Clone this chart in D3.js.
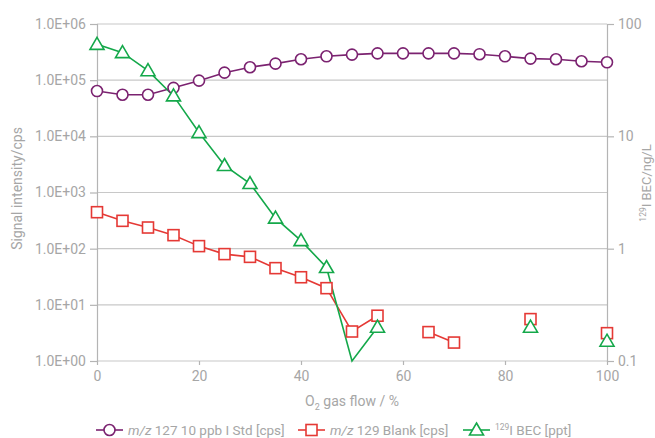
<!DOCTYPE html>
<html>
<head>
<meta charset="utf-8">
<script src="https://cdn.jsdelivr.net/npm/d3@7/dist/d3.min.js"></script>
<style>
  body { margin: 0; background: #fff; }
  text { font-family: Roboto, "Noto Sans", sans-serif; fill: #a6a6a6; }
</style>
</head>
<body>
<div id="chart"></div>
<script>
// Data
const flow = [0, 5, 10, 15, 20, 25, 30, 35, 40, 45, 50, 55, 60, 65, 70, 75, 80, 85, 90, 95, 100];
const std127 = [64000, 55000, 55000, 73000, 98000, 136000, 170000, 197000, 236000, 266000, 285000,
                300000, 300000, 300000, 300000, 290000, 266000, 242000, 236000, 217000, 208000];
const blank129 = [446, 313, 238, 174, 111, 80, 71.5, 45, 31, 19.8, 3.35,
                  6.4, null, 3.27, 2.13, null, null, 5.57, null, null, 3.13];
const bec129 = [65.9, 55.6, 38.4, 22.9, 10.8, 5.5, 3.8, 1.87, 1.18, 0.68, 0.09,
                0.2, null, null, null, null, null, 0.2, null, null, 0.15];

const leftTicks = [1, 10, 100, 1e3, 1e4, 1e5, 1e6];
const rightTicks = [0.1, 1, 10, 100];
const rightTickLabels = ["0.1", "1", "10", "100"];
const xTicks = [0, 20, 40, 60, 80, 100];

const colors = { std: "#7b2270", blank: "#e53935", bec: "#14a84a" };

// Dimensions
const width = 655, height = 438;
const margin = { top: 24, right: 48, bottom: 77, left: 97 };

const svg = d3.select("#chart").append("svg")
  .attr("width", width)
  .attr("height", height);

const x = d3.scaleLinear().domain([0, 100]).range([margin.left, width - margin.right]);
const yL = d3.scaleLog().domain([1, 1e6]).range([height - margin.bottom, margin.top]).clamp(true);
const yR = d3.scaleLog().domain([0.1, 100]).range([height - margin.bottom, margin.top]).clamp(true);

// Gridlines
svg.append("g").selectAll("line")
  .data(leftTicks)
  .enter().append("line")
  .attr("x1", x(0)).attr("x2", x(100))
  .attr("y1", d => yL(d)).attr("y2", d => yL(d))
  .attr("stroke", "#c8c8c8").attr("stroke-width", 1.2);

// Axes
const fmtE = d => "1.0E+" + String(Math.round(Math.log10(d))).padStart(2, "0");

const gL = svg.append("g").attr("transform", `translate(${x(0)},0)`)
  .call(d3.axisLeft(yL).tickValues(leftTicks).tickFormat(fmtE).tickSize(7).tickPadding(4));
const gR = svg.append("g").attr("transform", `translate(${x(100)},0)`)
  .call(d3.axisRight(yR).tickValues(rightTicks).tickFormat((d, i) => rightTickLabels[i]).tickSize(7).tickPadding(4));
const gX = svg.append("g").attr("transform", `translate(0,${yL(1)})`)
  .call(d3.axisBottom(x).tickValues(xTicks).tickSize(4).tickPadding(6));

[gL, gR, gX].forEach(g => {
  g.select(".domain").attr("stroke", "#b4b4b4").attr("stroke-width", 1.2);
  g.selectAll(".tick line").attr("stroke", "#b4b4b4").attr("stroke-width", 1.2);
  g.selectAll(".tick text").style("font-size", "14px").attr("fill", "#a6a6a6");
});
gX.select(".domain").remove();

// Axis titles
svg.append("text")
  .attr("transform", `translate(22,${(margin.top + yL(1)) / 2 - 4}) rotate(-90)`)
  .attr("text-anchor", "middle")
  .style("font-size", "14px")
  .text("Signal intensity/cps");

const rt = svg.append("text")
  .attr("transform", `translate(651,183) rotate(-90)`)
  .attr("text-anchor", "middle")
  .style("font-size", "13px");
rt.append("tspan").style("font-size", "8.5px").attr("dy", "-5").text("129");
rt.append("tspan").attr("dy", "5").text("I BEC/ng/L");

const xt = svg.append("text")
  .attr("x", (x(0) + x(100)) / 2)
  .attr("y", 406)
  .attr("text-anchor", "middle")
  .style("font-size", "14px");
xt.append("tspan").text("O");
xt.append("tspan").style("font-size", "9px").attr("dy", "4").text("2");
xt.append("tspan").attr("dy", "-4").text(" gas flow / %");

// Series
const series = [
  { key: "std", values: std127, y: yL, marker: "circle" },
  { key: "blank", values: blank129, y: yL, marker: "square" },
  { key: "bec", values: bec129, y: yR, marker: "triangle" }
];

function drawMarker(g, type, color) {
  if (type === "circle") {
    g.append("circle").attr("r", 5.5);
  } else if (type === "square") {
    g.append("rect").attr("x", -5.5).attr("y", -5.5).attr("width", 11).attr("height", 11);
  } else {
    g.append("path").attr("d", "M0,-7L7,5L-7,5Z");
  }
  g.selectAll("circle,rect,path")
    .attr("fill", "#fff").attr("stroke", color).attr("stroke-width", 1.6);
}

series.forEach(s => {
  const pts = flow.map((f, i) => ({ f, v: s.values[i] }));
  const line = d3.line()
    .defined(d => d.v != null)
    .x(d => x(d.f))
    .y(d => s.y(d.v));
  svg.append("path")
    .datum(pts)
    .attr("fill", "none")
    .attr("stroke", colors[s.key])
    .attr("stroke-width", 1.6)
    .attr("d", line);
});

series.forEach(s => {
  const pts = flow.map((f, i) => ({ f, v: s.values[i] }))
    .filter(d => d.v != null && d.v >= s.y.domain()[0]);
  svg.append("g").selectAll("g")
    .data(pts)
    .enter().append("g")
    .attr("transform", d => `translate(${x(d.f)},${s.y(d.v)})`)
    .each(function () { drawMarker(d3.select(this), s.marker, colors[s.key]); });
});

// Legend
const legendItems = [
  { key: "std", marker: "circle", x0: 96, label: [["m/z", true], [" 127 10 ppb I Std [cps]", false]] },
  { key: "blank", marker: "square", x0: 298, label: [["m/z", true], [" 129 Blank [cps]", false]] },
  { key: "bec", marker: "triangle", x0: 463, label: null }
];
const ly = 430;
legendItems.forEach(it => {
  const g = svg.append("g");
  g.append("line").attr("x1", it.x0).attr("x2", it.x0 + 27).attr("y1", ly).attr("y2", ly)
    .attr("stroke", colors[it.key]).attr("stroke-width", 1.6);
  const m = g.append("g").attr("transform", `translate(${it.x0 + 13.5},${ly})`);
  drawMarker(m, it.marker, colors[it.key]);
  const t = g.append("text").attr("x", it.x0 + 32).attr("y", ly + 5).style("font-size", "13.5px");
  if (it.label) {
    it.label.forEach(([txt, ital]) => t.append("tspan").style("font-style", ital ? "italic" : "normal").text(txt));
  } else {
    t.append("tspan").style("font-size", "8.5px").attr("dy", "-5").text("129");
    t.append("tspan").attr("dy", "5").text("I BEC [ppt]");
  }
});
</script>
</body>
</html>
